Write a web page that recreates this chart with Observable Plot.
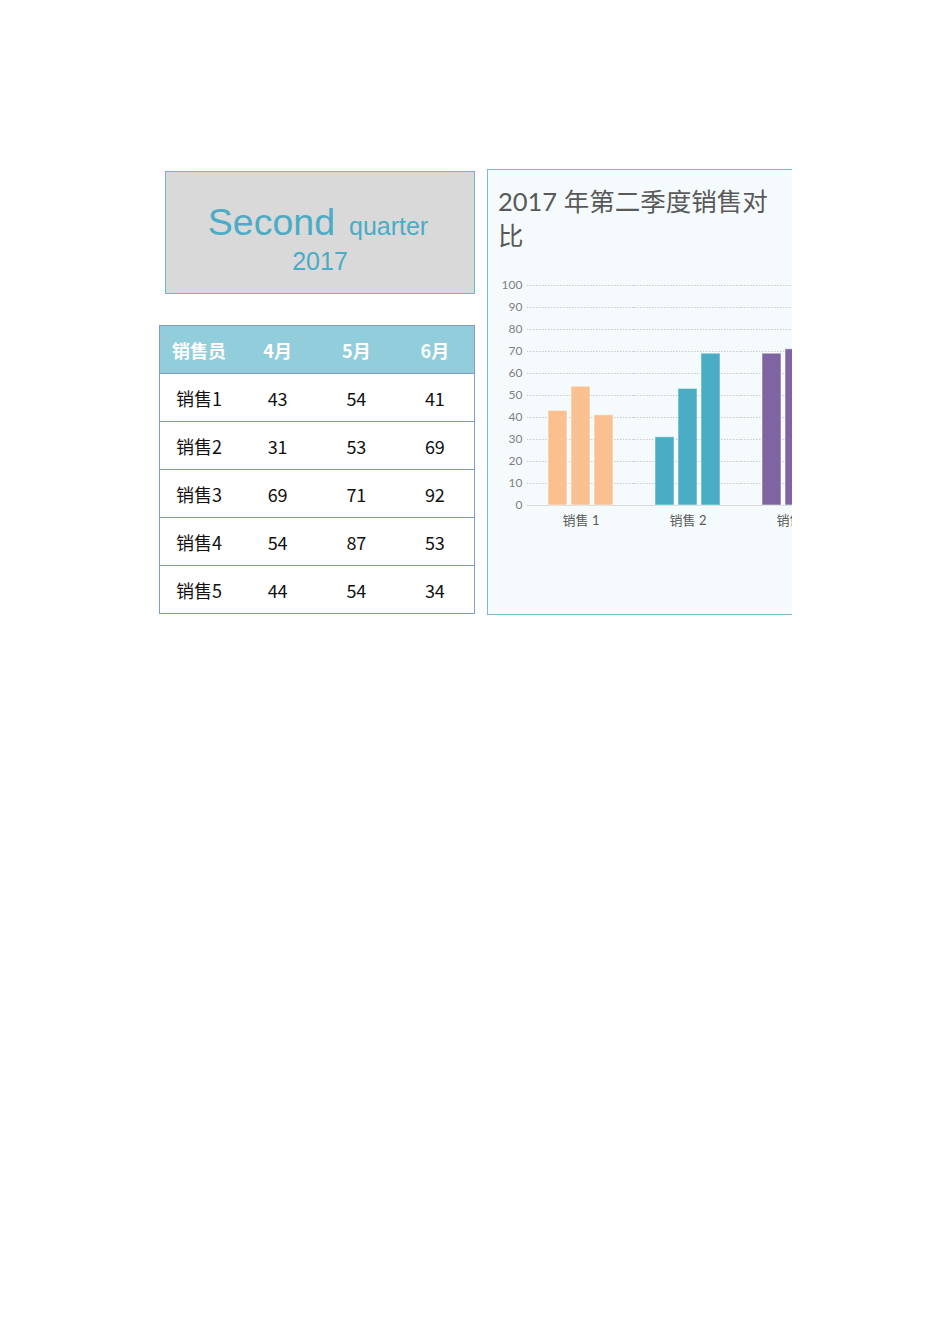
<!DOCTYPE html>
<html><head><meta charset="utf-8">
<script src="https://cdn.jsdelivr.net/npm/d3@7"></script>
<script src="https://cdn.jsdelivr.net/npm/@observablehq/plot@0.6"></script>
<style>
html,body{margin:0;padding:0;background:#fff;}
body{width:950px;height:1344px;position:relative;overflow:hidden;}
#titlebox{position:absolute;left:165px;top:171px;width:308px;height:121px;background:#D9D9D9;border:1.5px solid #6DB6CD;text-align:center;font-family:"Liberation Sans",Arial,sans-serif;color:#4BACC6;}
#titlebox .l1{position:absolute;left:-4px;right:0;top:28px;line-height:44px;}
#titlebox .big{font-size:37.5px;}
#titlebox .small{font-size:25px;margin-left:14px;}
#titlebox .l2{position:absolute;left:0;right:0;top:74px;font-size:25px;line-height:30px;}
table{position:absolute;left:159px;top:325px;width:316px;border-collapse:collapse;font-family:"Noto Sans CJK SC","Noto Sans",sans-serif;font-size:18px;table-layout:fixed;}
tr{height:48px;}
td,th{padding:0;border-top:1.5px solid #7F9DC9;border-bottom:1.5px solid #7F9DC9;text-align:center;}
tr td:first-child,tr th:first-child{text-align:left;padding-left:16px;border-left:1.5px solid #7F9DC9;}
tr th:first-child{padding-left:12px;}
tr td:last-child,tr th:last-child{border-right:1.5px solid #7F9DC9;}
th{background:#92CDDC;color:#fff;font-weight:bold;}
td{color:#111;}
#panel{position:absolute;left:487px;top:169px;width:304px;height:444px;background:#F5FBFC;border-left:1.5px solid #78BCD0;border-top:1.5px solid #78BCD0;border-bottom:1.5px solid #78BCD0;overflow:hidden;}
#ctitle{position:absolute;left:10px;top:14px;font-family:Lato,"Noto Sans CJK SC",sans-serif;font-size:25.5px;line-height:34px;color:#595959;white-space:nowrap;}
#chart{position:absolute;left:0;top:101px;width:584px;}
#chart svg{max-width:none !important;}
</style></head>
<body>
<div id="titlebox"><div class="l1"><span class="big">Second</span><span class="small">quarter</span></div><div class="l2">2017</div></div>
<table id="tbl"></table>
<div id="panel"><div id="ctitle">2017 年第二季度销售对<br>比</div><div id="chart"></div></div>
<script>
const reps = ["销售1","销售2","销售3","销售4","销售5"];
const months = ["4月","5月","6月"];
const apr = [43,31,69,54,44];
const may = [54,53,71,87,54];
const jun = [41,69,92,53,34];
const yTicks = [0,10,20,30,40,50,60,70,80,90,100];
const groupColors = ["#FAC090","#4BACC6","#8064A2","#9BBB59","#C0504D"];

// table
const tbl = document.getElementById("tbl");
let html = "<tr><th>销售员</th>" + months.map(m => `<th>${m}</th>`).join("") + "</tr>";
reps.forEach((r, i) => {
  html += `<tr><td>${r}</td><td>${apr[i]}</td><td>${may[i]}</td><td>${jun[i]}</td></tr>`;
});
tbl.innerHTML = html;

// chart data
const series = [apr, may, jun];
const data = [];
reps.forEach((r, i) => months.forEach((m, j) => data.push({rep: r, month: m, value: series[j][i]})));

const chart = Plot.plot({
  width: 584,
  height: 264,
  marginLeft: 39,
  marginRight: 10,
  marginTop: 14,
  marginBottom: 30,
  style: {fontFamily: 'Lato, "Noto Sans CJK SC", sans-serif', background: "transparent", overflow: "visible", maxWidth: "none"},
  fx: {domain: reps, padding: 0, label: null, tickSize: 0, tickPadding: 10,
       tickFormat: d => d.replace(/(\d+)$/, " $1")},
  x: {domain: months, paddingInner: 0.18, paddingOuter: 0.87, axis: null},
  y: {domain: [0, 100], ticks: yTicks, tickSize: 0, tickPadding: 5, label: null},
  color: {domain: reps, range: groupColors},
  marks: [
    Plot.ruleY(yTicks.filter(t => t > 0), {stroke: "#C8C8C8", strokeDasharray: "1.5,1.5", strokeWidth: 1}),
    Plot.ruleY([0], {stroke: "#D9D9D9", strokeWidth: 1.2}),
    Plot.barY(data, {fx: "rep", x: "month", y: "value", fill: "rep", stroke: "#ffffff", strokeOpacity: 0.5, strokeWidth: 1})
  ]
});
chart.style.maxWidth = "none";
chart.querySelectorAll('[aria-label="y-axis tick label"] text, [aria-label="y-axis tick label"]').forEach(e => { e.setAttribute("fill", "#7F7F7F"); e.style.fontSize = "12px"; });
chart.querySelectorAll('[aria-label="fx-axis tick label"] text, [aria-label="fx-axis tick label"]').forEach(e => { e.setAttribute("fill", "#595959"); e.style.fontSize = "13px"; });
document.getElementById("chart").appendChild(chart);
</script>
</body></html>
